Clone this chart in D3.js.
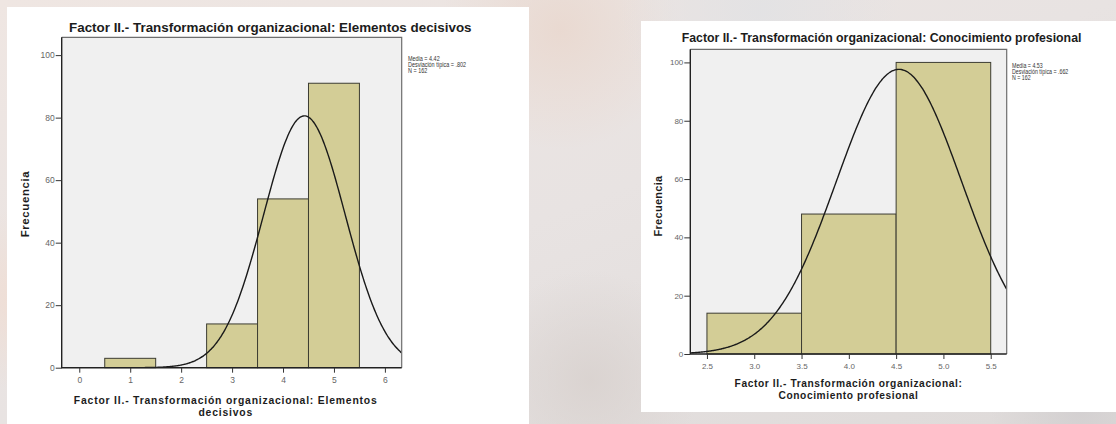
<!DOCTYPE html>
<html><head><meta charset="utf-8">
<script src="https://cdn.jsdelivr.net/npm/d3@7"></script>
<style>
html,body{margin:0;padding:0;overflow:hidden;}
svg{display:block;}
text{font-family:"Liberation Sans",Arial,sans-serif;}
</style></head>
<body>
<svg id="c" width="1116" height="424"></svg>
<script>
// ---- data: panel A (Elementos decisivos)
const titleA = "Factor II.- Transformación organizacional: Elementos decisivos";
const xTitleA = ["Factor II.- Transformación organizacional: Elementos", "decisivos"];
const binStartsA = [0.5, 1.5, 2.5, 3.5, 4.5];
const countsA = [3, 0, 14, 54, 91];
const statsA = [4.42, 0.802, 162];            // media, desviación típica, N
const statLabelsA = ["Media = 4.42", "Desviación típica = .802", "N = 162"];
const xTicksA = [0, 1, 2, 3, 4, 5, 6];
const xTickLabelsA = ["0", "1", "2", "3", "4", "5", "6"];
// ---- data: panel B (Conocimiento profesional)
const titleB = "Factor II.- Transformación organizacional: Conocimiento profesional";
const xTitleB = ["Factor II.- Transformación organizacional:", "Conocimiento profesional"];
const binStartsB = [2.5, 3.5, 4.5];
const countsB = [14, 48, 100];
const statsB = [4.53, 0.662, 162];
const statLabelsB = ["Media = 4.53", "Desviación típica = .662", "N = 162"];
const xTicksB = [2.5, 3.0, 3.5, 4.0, 4.5, 5.0, 5.5];
const xTickLabelsB = ["2.5", "3.0", "3.5", "4.0", "4.5", "5.0", "5.5"];
// shared
const yTicks = [0, 20, 40, 60, 80, 100];
const yTickLabels = ["0", "20", "40", "60", "80", "100"];
const binWidth = 1;
const yTitle = "Frecuencia";

const svg = d3.select("#c");
const defs = svg.append("defs");

// ---- blurred photo-like background
const bg = defs.append("linearGradient").attr("id","bgG").attr("x1","0").attr("y1","0").attr("x2","1").attr("y2","1");
bg.append("stop").attr("offset","0").attr("stop-color","#efe6e2");
bg.append("stop").attr("offset","0.5").attr("stop-color","#e8e3e2");
bg.append("stop").attr("offset","1").attr("stop-color","#dedad9");
svg.append("rect").attr("width",1116).attr("height",424).attr("fill","url(#bgG)");
const blobs = [[560,30,120,"#e9d8cf"],[590,380,110,"#d9d2cf"],[20,300,90,"#f0ddd3"],[760,10,140,"#e2e2e4"],[1080,410,90,"#d2cfd0"]];
blobs.forEach((b,i)=>{
  const g = defs.append("radialGradient").attr("id","bl"+i);
  g.append("stop").attr("offset","0").attr("stop-color",b[3]).attr("stop-opacity",0.9);
  g.append("stop").attr("offset","1").attr("stop-color",b[3]).attr("stop-opacity",0);
  svg.append("circle").attr("cx",b[0]).attr("cy",b[1]).attr("r",b[2]).attr("fill","url(#bl"+i+")");
});

function panel(cfg){
  const g = svg.append("g");
  g.append("rect").attr("x",cfg.box[0]).attr("y",cfg.box[1]).attr("width",cfg.box[2]).attr("height",cfg.box[3]).attr("fill","#ffffff");
  const x = d3.scaleLinear().domain(cfg.xDom).range([cfg.pl, cfg.pr]);
  const y = d3.scaleLinear().domain([0, cfg.yMax]).range([cfg.pb, cfg.pt]);
  // plot background
  g.append("rect").attr("x",cfg.pl).attr("y",cfg.pt).attr("width",cfg.pr-cfg.pl).attr("height",cfg.pb-cfg.pt)
    .attr("fill","#f0f0f0");
  // bars
  const bars = cfg.starts.map((s,i)=>({s, c: cfg.counts[i]})).filter(d=>d.c>0);
  g.selectAll("rect.bar").data(bars).enter().append("rect").attr("class","bar")
    .attr("x",d=>x(d.s)).attr("y",d=>y(d.c))
    .attr("width",d=>x(d.s+binWidth)-x(d.s)).attr("height",d=>y(0)-y(d.c))
    .attr("fill","#d3cd96").attr("stroke","#3c3c32").attr("stroke-width",1);
  // normal curve
  const cid = "clip"+cfg.id;
  defs.append("clipPath").attr("id",cid).append("rect")
    .attr("x",cfg.pl).attr("y",cfg.pt).attr("width",cfg.pr-cfg.pl).attr("height",cfg.pb-cfg.pt);
  const [m, sd, n] = cfg.stats;
  const xs = d3.range(0, 301).map(i => cfg.xDom[0] + (cfg.xDom[1]-cfg.xDom[0]) * i / 300);
  const pts = xs.map(v => [v, n*binWidth/(sd*Math.sqrt(2*Math.PI))*Math.exp(-((v-m)*(v-m))/(2*sd*sd))]);
  g.append("path").attr("clip-path","url(#"+cid+")")
    .attr("d", d3.line().x(d=>x(d[0])).y(d=>y(d[1])).curve(d3.curveBasis)(pts))
    .attr("fill","none").attr("stroke","#1a1a1a").attr("stroke-width",1.4);
  // frame
  g.append("path").attr("d",`M${cfg.pl},${cfg.pt}H${cfg.pr}V${cfg.pb}`).attr("fill","none").attr("stroke","#6e6e6e").attr("stroke-width",1.2);
  g.append("path").attr("d",`M${cfg.pl},${cfg.pt}V${cfg.pb}H${cfg.pr}`).attr("fill","none").attr("stroke","#222").attr("stroke-width",1.4);
  // axes
  const ya = g.append("g").attr("transform",`translate(${cfg.pl},0)`)
    .call(d3.axisLeft(y).tickValues(yTicks).tickFormat((d,i)=>yTickLabels[i]).tickSize(6).tickPadding(1));
  const xa = g.append("g").attr("transform",`translate(0,${cfg.pb})`)
    .call(d3.axisBottom(x).tickValues(cfg.xTicks).tickFormat((d,i)=>cfg.xTickLabels[i]).tickSize(5).tickPadding(4));
  [ya, xa].forEach(a=>{
    a.select(".domain").remove();
    a.selectAll(".tick line").attr("stroke","#333");
    a.selectAll(".tick text").attr("fill","#666").attr("font-size",cfg.tickFs)
      .attr("font-family","'Liberation Sans Narrow','Liberation Sans',Arial,sans-serif");
  });
  // title
  g.append("text").attr("x",cfg.titleX).attr("y",cfg.titleY).attr("font-size",cfg.titleFs).attr("font-weight","bold")
    .attr("fill","#1c1c1c").text(cfg.title);
  // y title
  g.append("text").attr("transform",`translate(${cfg.yTitleX},${cfg.yTitleY}) rotate(-90)`).attr("text-anchor","middle")
    .attr("font-size",cfg.axFs).attr("font-weight","bold").attr("letter-spacing",cfg.yTitleLs).attr("fill","#1c1c1c").text(yTitle);
  // x title
  cfg.xTitle.forEach((t,i)=>{
    g.append("text").attr("x",(cfg.pl+cfg.pr)/2 + cfg.xTitleDx).attr("y",cfg.xTitleY + i*cfg.xTitleLh)
      .attr("text-anchor","middle").attr("font-size",cfg.xFs).attr("letter-spacing",cfg.xLs)
      .attr("font-weight","bold").attr("fill","#1c1c1c").text(t);
  });
  // stats
  const sg = g.append("g").attr("transform",`translate(${cfg.statX},${cfg.statY}) scale(0.78,1)`);
  cfg.statLabels.forEach((t,i)=>{
    sg.append("text").attr("x",0).attr("y",i*cfg.statLh)
      .attr("font-size",cfg.statFs).attr("fill","#333").text(t);
  });
}

panel({id:"A", box:[7,7,522,417], xDom:[-0.345, 6.33], yMax:105.7,
  pl:61.7, pr:401.7, pt:37.3, pb:367.7,
  starts:binStartsA, counts:countsA, stats:statsA, statLabels:statLabelsA,
  xTicks:xTicksA, xTickLabels:xTickLabelsA, tickFs:8.5,
  title:titleA, titleX:69, titleY:32.3, titleFs:13.4,
  yTitleX:29, yTitleY:204, axFs:11.5, yTitleLs:0.6, xFs:10.4, xLs:0.8,
  xTitle:xTitleA, xTitleDx:-6, xTitleY:404, xTitleLh:12,
  statX:408, statY:61, statLh:6.2, statFs:7});

panel({id:"B", box:[641,21,475,391], xDom:[2.324, 5.669], yMax:104.5,
  pl:690.3, pr:1006.7, pt:49.3, pb:354,
  starts:binStartsB, counts:countsB, stats:statsB, statLabels:statLabelsB,
  xTicks:xTicksB, xTickLabels:xTickLabelsB, tickFs:8,
  title:titleB, titleX:681.7, titleY:42.3, titleFs:12.3,
  yTitleX:662, yTitleY:206, axFs:11, yTitleLs:0.3, xFs:10.2, xLs:0.6,
  xTitle:xTitleB, xTitleDx:0, xTitleY:387, xTitleLh:11.8,
  statX:1012, statY:68, statLh:6, statFs:6.8});
</script>
</body></html>
